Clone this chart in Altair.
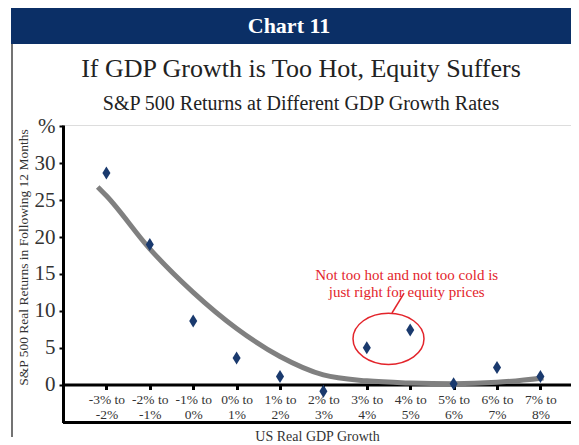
import altair as alt
import pandas as pd

# ---- data ----
CAT_TOP = ["-3% to", "-2% to", "-1% to", "0% to", "1% to", "2% to",
           "3% to", "4% to", "5% to", "6% to", "7% to"]
CAT_BOTTOM = ["-2%", "-1%", "0%", "1%", "2%", "3%", "4%", "5%", "6%", "7%", "8%"]
RETURNS = [28.7, 19.0, 8.6, 3.6, 1.1, -0.9, 5.0, 7.4, 0.1, 2.3, 1.1]

TREND_X = [-0.2, 0, 1, 2, 3, 4, 5, 6, 7, 8, 9, 10.07]
TREND_Y = [26.8, 25.6, 18.4, 12.5, 7.6, 3.8, 1.3, 0.5, 0.2, 0.1, 0.3, 0.9]

Y_TICKS = [0, 5, 10, 15, 20, 25, 30, 35]
Y_MIN, Y_MAX = -5.15, 35.2
X_MIN, X_MAX = -1, 10.705

TITLE = "If GDP Growth is Too Hot, Equity Suffers"
SUBTITLE = "S&P 500 Returns at Different GDP Growth Rates"
BANNER = "Chart 11"
ANNOT_TEXT = "Not too hot and not too cold is\njust right for equity prices"
CIRCLED = [6, 7]  # 3%-4% and 4%-5%

NAVY = "#0b2f66"
DIAMOND = "#1a3a6e"
RED = "#e3242b"
FONT = "Liberation Serif"

pts = pd.DataFrame({"idx": list(range(len(RETURNS))), "ret": RETURNS})
trend = pd.DataFrame({"idx": TREND_X, "ret": TREND_Y})
circ = pts[pts["idx"].isin(CIRCLED)]
ell = pd.DataFrame({"idx": [circ["idx"].mean()], "ret": [circ["ret"].mean()]})
conn = pd.DataFrame({"x": [6.58], "y": [9.7], "x2": [6.86], "y2": [12.4]})
annot = pd.DataFrame({"idx": [6.92], "ret": [14.9], "t": [ANNOT_TEXT]})
one = pd.DataFrame({"a": [0]})

label_arr = "[" + ",".join(
    "['%s','%s']" % (t, b) for t, b in zip(CAT_TOP, CAT_BOTTOM)) + "]"

xscale = alt.Scale(domain=[X_MIN, X_MAX], nice=False, zero=False)
yscale = alt.Scale(domain=[Y_MIN, Y_MAX], nice=False, zero=False)

x_enc = alt.X(
    "idx:Q", scale=xscale,
    axis=alt.Axis(
        values=list(range(len(RETURNS))),
        labelExpr=label_arr + "[datum.value]",
        offset=-38, domainColor="black", domainWidth=3,
        tickColor="black", tickWidth=3, tickSize=5,
        labelFont=FONT, labelFontSize=13.5, labelColor="#333",
        labelLineHeight=14.5, labelPadding=3,
        grid=False,
        title="US Real GDP Growth", titleFont=FONT, titleFontSize=14,
        titleFontWeight="normal", titleColor="#333", titleY=52,
        titleBaseline="middle",
    ),
)
y_enc = alt.Y(
    "ret:Q", scale=yscale,
    axis=alt.Axis(
        values=Y_TICKS,
        labelExpr="datum.value == 35 ? '%' : datum.label",
        domainColor="black", domainWidth=3,
        tickColor="black", tickWidth=2, tickSize=4,
        labelFont=FONT, labelFontSize=21, labelColor="#333", labelPadding=4,
        grid=False,
        title="S&P 500 Real Returns in Following 12 Months",
        titleFont=FONT, titleFontSize=13.5, titleFontWeight="normal",
        titleColor="#333", titleX=-40, titleY=132, titleAngle=-90,
        titleAlign="center", titleBaseline="middle",
    ),
)

line = alt.Chart(trend).mark_line(
    color="#808080", strokeWidth=5, interpolate="monotone"
).encode(x=x_enc, y=y_enc)

points = alt.Chart(pts).mark_point(
    shape="M 0 -1 L 0.62 0 L 0 1 L -0.62 0 Z", filled=True,
    color=DIAMOND, opacity=1, size=169
).encode(x="idx:Q", y="ret:Q")

bottom_rule = alt.Chart(one).mark_rule(color="black", strokeWidth=3).encode(
    y=alt.datum(Y_MIN)
)

ellipse = alt.Chart(ell).mark_point(
    shape="M -1 0 A 1 0.72 0 1 1 1 0 A 1 0.72 0 1 1 -1 0 Z",
    filled=False, color=RED, strokeWidth=1.5, size=5041, opacity=1
).encode(x="idx:Q", y="ret:Q")

connector = alt.Chart(conn).mark_rule(color=RED, strokeWidth=1.5).encode(
    x="x:Q", y="y:Q", x2="x2:Q", y2="y2:Q"
)

annot_text = alt.Chart(annot).mark_text(
    font=FONT, fontSize=15, color=RED, lineBreak="\n", lineHeight=17,
    align="center", baseline="middle"
).encode(x="idx:Q", y="ret:Q", text="t:N")

banner = alt.Chart(one).mark_rect(color=NAVY).encode(
    x=alt.value(-52), x2=alt.value(508), y=alt.value(-117), y2=alt.value(-81)
)
banner_text = alt.Chart(one).mark_text(
    text=BANNER, font=FONT, fontSize=22, fontWeight="bold", color="white",
    align="center", baseline="middle"
).encode(x=alt.value(226), y=alt.value(-99))

title_text = alt.Chart(one).mark_text(
    text=TITLE, font=FONT, fontSize=26, color="#222",
    align="center", baseline="alphabetic"
).encode(x=alt.value(238), y=alt.value(-48))
subtitle_text = alt.Chart(one).mark_text(
    text=SUBTITLE, font=FONT, fontSize=20, color="#222",
    align="center", baseline="alphabetic"
).encode(x=alt.value(238), y=alt.value(-15))

left_border = alt.Chart(one).mark_rule(color="#444", strokeWidth=1.5).encode(
    x=alt.value(-51), y=alt.value(-117), y2=alt.value(312)
)

chart = alt.layer(
    left_border, banner, banner_text, title_text, subtitle_text,
    bottom_rule, line, points, ellipse, connector, annot_text
).properties(
    width=508, height=297.5,
    autosize=alt.AutoSizeParams(type="none"),
    padding={"left": 55, "top": 117, "right": 0, "bottom": 22.5},
).configure_view(strokeWidth=0).configure(background="white")

chart.save("out.html", embed_options={"renderer": "svg", "actions": False})
